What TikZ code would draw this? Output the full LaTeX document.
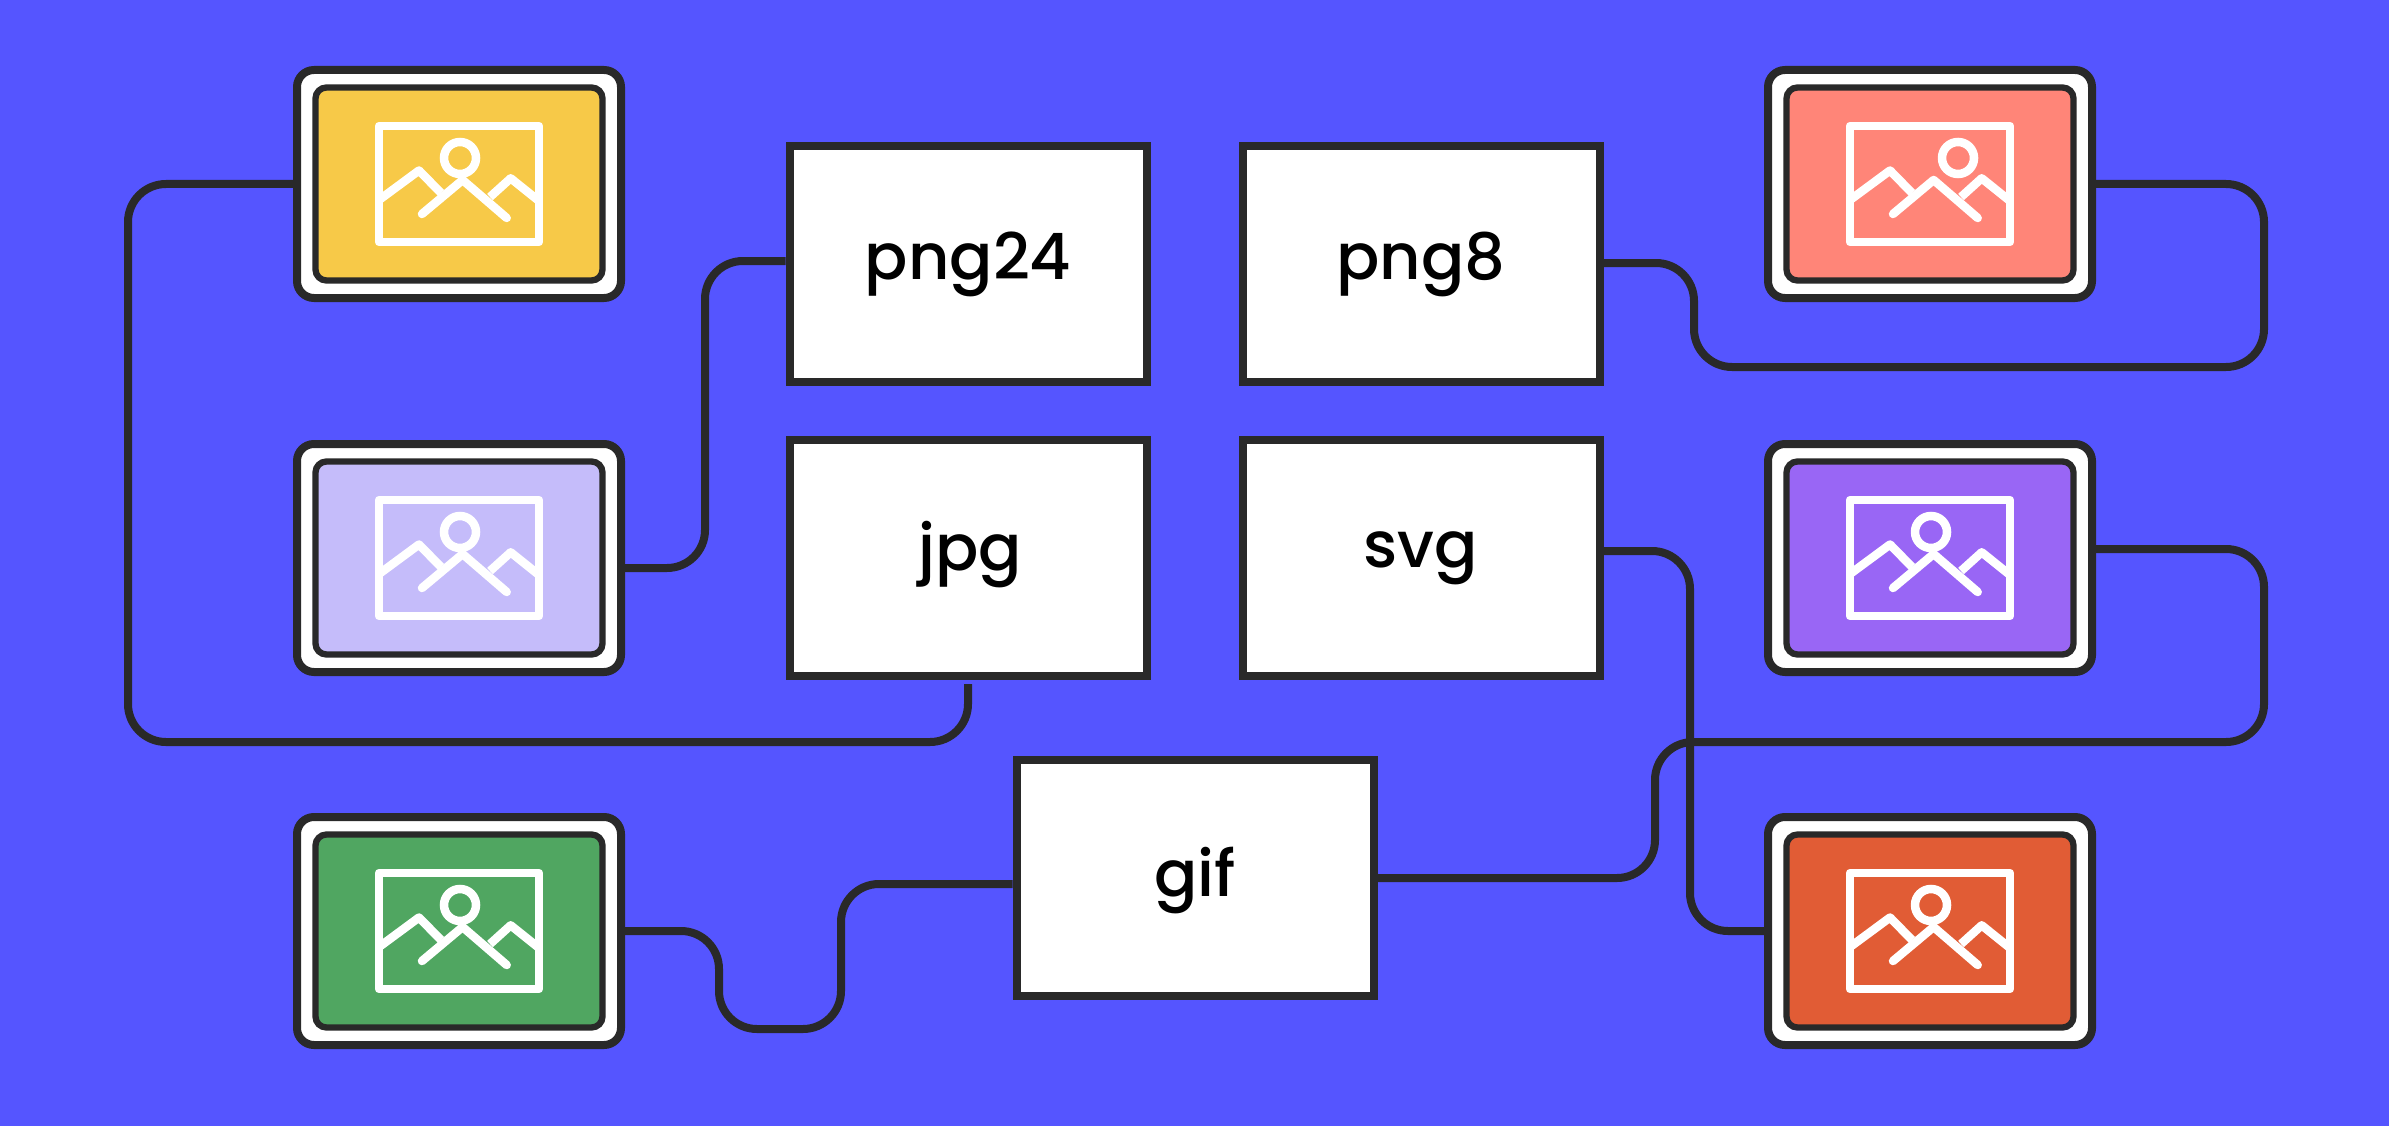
\documentclass[tikz,border=0pt]{standalone}
\usepackage{fontspec}
\setmainfont[UprightFont=* Medium]{Poppins}
\definecolor{cbg}{HTML}{5555FF}
\definecolor{cdark}{HTML}{292929}
\definecolor{cyellow}{HTML}{F7C948}
\definecolor{cpink}{HTML}{FF8578}
\definecolor{clav}{HTML}{C5BCFA}
\definecolor{cviolet}{HTML}{9966F5}
\definecolor{cgreen}{HTML}{50A661}
\definecolor{corange}{HTML}{E15C35}
\begin{document}
\begin{tikzpicture}[x=1pt, y=-1pt,
		box/.style={rectangle, draw=cdark, fill=white, line width=8pt, minimum width=357pt, minimum height=236pt, inner sep=0pt},
		label/.style={anchor=base, text=black, font=\fontsize{64}{78}\selectfont},
		card/.style={rectangle, draw=cdark, fill=white, line width=8pt, rounded corners=17pt, minimum width=324pt, minimum height=228pt},
		screen/.style={rectangle, draw=cdark, line width=6.3pt, rounded corners=11pt, minimum width=287pt, minimum height=193pt},
		wire/.style={draw=cdark, line width=8pt, rounded corners=38pt},
		icon/.pic={
			\draw[white, line width=8.5pt, line join=round] (-80,-58) rectangle (80,58);
			\draw[white, line width=8.5pt] (#1,-26) circle (16);
			\draw[white, line width=8.5pt, line join=round] (-80,16) -- (-40,-13.5) -- (-18,9);
			\draw[white, line width=8.5pt, line join=round, line cap=round] (-37,30) -- (3.6,-4) -- (47.7,34);
			\draw[white, line width=8.5pt, line join=round] (31,13) -- (51.7,-5.7) -- (80,17);
		},
		icon/.default=0]
	\fill[cbg] (0,0) rectangle (2389,1126);

	\node[card] (yellow) at (459,184) {};
	\node[card] (lav) at (459,558) {};
	\node[card] (green) at (459,931) {};
	\node[card] (pink) at (1930,184) {};
	\node[card] (violet) at (1930,558) {};
	\node[card] (orange) at (1930,931) {};

	\node[screen, fill=cyellow] (yellowin) at (yellow) {};
	\node[screen, fill=clav] (lavin) at (lav) {};
	\node[screen, fill=cgreen] (greenin) at (green) {};
	\node[screen, fill=cpink] (pinkin) at (pink) {};
	\node[screen, fill=cviolet] (violetin) at (violet) {};
	\node[screen, fill=corange] (orangein) at (orange) {};

	\pic at (yellow) {icon};
	\pic at (lav) {icon};
	\pic at (green) {icon};
	\pic at (pink) {icon=28};
	\pic at (violet) {icon};
	\pic at (orange) {icon};

	\node[box] (png24) at (968,264) {};
	\node[box] (png8) at (1421,264) {};
	\node[box] (jpg) at (968,558) {};
	\node[box] (svg) at (1421,558) {};
	\node[box] (gif) at (1195,878) {};

	\node[label] (png24t) at (968,279) {png24};
	\node[label] (png8t) at (1421,279) {png8};
	\node[label] (jpgt) at (970,570) {jpg};
	\node[label] (svgt) at (1421,567) {svg};
	\node[label] (gift) at (1195,896) {gif};

	\draw[wire, shorten >=4pt] (yellow.west) -| (128,742) -| (jpg.south);
	\draw[wire] (lav.east |- 0,568) -| (705,261) -- (png24.west |- 0,261);
	\draw[wire] (png8.east |- 0,263) -| (1694,367) -| (2264,184) -- (pink.east);
	\draw[wire] (svg.east |- 0,551) -| (1690,931) -- (orange.west);
	\draw[wire] (violet.east |- 0,549) -| (2264,742) -| (1655,878) -- (gif.east |- 0,878);
	\draw[wire] (green.east) -| (719,1029) -| (841,884) -- (gif.west |- 0,884);
\end{tikzpicture}
\end{document}
